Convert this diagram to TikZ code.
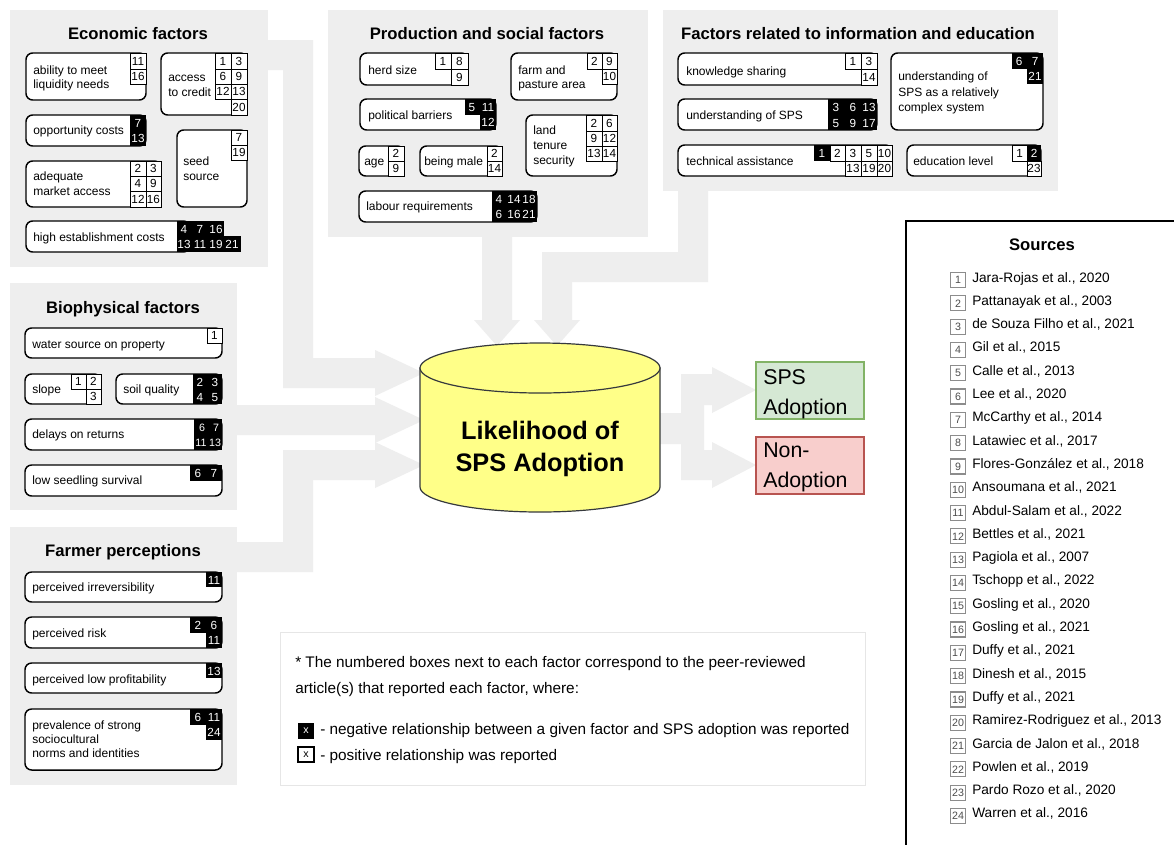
\documentclass[tikz,border=0pt]{standalone}
\usepackage{fontspec}
\setmainfont{Liberation Sans}
\definecolor{panel}{HTML}{EEEEEE}
\definecolor{cylfill}{HTML}{FFFF88}
\definecolor{cyldraw}{HTML}{36393D}
\definecolor{gfill}{HTML}{D5E8D4}
\definecolor{gdraw}{HTML}{82B366}
\definecolor{rfill}{HTML}{F8CECC}
\definecolor{rdraw}{HTML}{B85450}
\definecolor{notedraw}{HTML}{E6E6E6}
\definecolor{srcgray}{HTML}{8C8C8C}
\newcounter{nn}
\tikzset{
 factorbox/.style={draw=black, line width=1.1pt, fill=white, rounded corners=5pt, inner sep=0pt},
 pcell/.style={draw=black, line width=0.75pt, fill=white},
 num/.style={font=\fontsize{8.8pt}{9pt}\selectfont, inner sep=0pt, text height=6.3pt, text depth=0pt, anchor=center},
 lbl/.style={font=\fontsize{9pt}{11pt}\selectfont, inner sep=0pt, anchor=base west},
 ttl/.style={font=\bfseries\fontsize{12.5pt}{14pt}\selectfont, inner sep=0pt, anchor=base},
 band/.style={fill=panel, draw=none},
 notetxt/.style={font=\fontsize{11.5pt}{13pt}\selectfont, inner sep=0pt, anchor=base west},
 outtxt/.style={font=\fontsize{16pt}{18pt}\selectfont, inner sep=0pt, anchor=base west},
 cyltxt/.style={font=\bfseries\fontsize{19pt}{21pt}\selectfont, inner sep=0pt, anchor=base},
}
\newcommand\fb[5]{\node[factorbox, minimum width={(#4-#2)*0.75pt}, minimum height={(#5-#3)*0.75pt}] (#1) at ({(#2+#4)/2},{(#3+#5)/2}) {};}
\newcommand\lb[3]{\stepcounter{nn}\node[lbl] (l\arabic{nn}) at (#1,{#2+4}) {#3};}
\newcommand\pc[5]{\stepcounter{nn}\draw[pcell] (#1,#2) rectangle (#3,#4); \node[num] (c\arabic{nn}) at ({(#1+#3)/2},{(#2+#4)/2}) {#5};}
\newcommand\bk[4]{\fill[black] (#1,#2) rectangle (#3,#4);}
\newcommand\nw[3]{\stepcounter{nn}\node[num,text=white] (w\arabic{nn}) at (#1,#2) {#3};}
\newcommand\nws[3]{\stepcounter{nn}\node[num,text=white,font=\fontsize{8pt}{8pt}\selectfont] (w\arabic{nn}) at (#1,#2) {#3};}
\newcommand\src[2]{\stepcounter{nn}\pgfmathsetmacro\yy{277+(#1-1)*23.3}%
 \draw[srcgray, line width=0.9pt, fill=white] (950.5,{\yy-4.5}) rectangle (965.5,{\yy+10.5});
 \node[font=\fontsize{8pt}{8pt}\selectfont, text=black!70, inner sep=0pt] (sn\arabic{nn}) at (958,{\yy+3}) {#1};
 \node[font=\fontsize{10.25pt}{12pt}\selectfont, inner sep=0pt, anchor=base west] (st\arabic{nn}) at (972,{\yy+5}) {#2};}

\begin{document}
\begin{tikzpicture}[x=0.75pt, y=-0.75pt]
\useasboundingbox (0,0) rectangle (1174,844);
\clip (0,0) rectangle (1174,844);
\fill[white] (0,0) rectangle (1174,844);

% panels
\fill[panel] (10,10) rectangle (268,267);
\fill[panel] (328,10) rectangle (648,237);
\fill[panel] (663,10) rectangle (1058,191);
\fill[panel] (10,283) rectangle (237,510);
\fill[panel] (10,527) rectangle (237,785);

% gray bands / arrows
\fill[band] (268,40) -- (313,40) -- (313,358) -- (375,358) -- (375,350) -- (424,373) -- (375,396) -- (375,388) -- (283,388) -- (283,70) -- (268,70) -- cycle;
\fill[band] (237,405) -- (375,405) -- (375,397) -- (424,420) -- (375,443) -- (375,435) -- (237,435) -- cycle;
\fill[band] (237,542) -- (283,542) -- (283,450) -- (375,450) -- (375,442) -- (424,465) -- (375,488) -- (375,480) -- (313,480) -- (313,572) -- (237,572) -- cycle;
\fill[band] (482,237) -- (512,237) -- (512,320) -- (520,320) -- (497,346) -- (474,320) -- (482,320) -- cycle;
\fill[band] (678,191) -- (708,191) -- (708,282) -- (572,282) -- (572,320) -- (580,320) -- (557,346) -- (534,320) -- (542,320) -- (542,252) -- (678,252) -- cycle;
\fill[band] (650,413) -- (681,413) -- (681,374) -- (712,374) -- (712,367) -- (756,390) -- (712,413) -- (712,405) -- (704,405) -- (704,450) -- (712,450) -- (712,442) -- (756,465) -- (712,488) -- (712,480) -- (681,480) -- (681,444) -- (650,444) -- cycle;

% cylinder
\filldraw[draw=cyldraw, fill=cylfill, line width=0.9pt] (420,368) -- (420,487) arc[start angle=180, end angle=0, x radius=120, y radius=25] -- (660,368) -- cycle;
\filldraw[draw=cyldraw, fill=cylfill, line width=0.9pt] (540,368) ellipse [x radius=120, y radius=25];
\coordinate (cyl) at (540,428);
\node[cyltxt] (cylA) at (540,439) {Likelihood of};
\node[cyltxt] (cylB) at (540,471) {SPS Adoption};

% outcomes
\node[draw=gdraw, fill=gfill, line width=1pt, minimum width={108*0.75pt}, minimum height={57*0.75pt}, inner sep=0pt] (sps) at (810,390.5) {};
\node[outtxt] (spsA) at (763,384.5) {SPS};
\node[outtxt] (spsB) at (763,414.5) {Adoption};
\node[draw=rdraw, fill=rfill, line width=1pt, minimum width={108*0.75pt}, minimum height={57*0.75pt}, inner sep=0pt] (non) at (810,465.5) {};
\node[outtxt] (nonA) at (763,457.5) {Non-};
\node[outtxt] (nonB) at (763,487.5) {Adoption};

% titles
\node[ttl] (tEcon) at (138,39) {Economic factors};
\node[ttl] (tProd) at (487,39) {Production and social factors};
\node[ttl] (tInfo) at (858,39) {Factors related to information and education};
\node[ttl] (tBio) at (123,313) {Biophysical factors};
\node[ttl] (tFarm) at (123,556) {Farmer perceptions};

% Economic
\fb{e1}{26}{53}{146}{100}
\lb{33}{70}{ability to meet}\lb{33}{84}{liquidity needs}
\pc{130}{53}{146}{69}{11}\pc{130}{69}{146}{84}{16}
\fb{e2}{161}{53}{247}{115}
\lb{168}{77}{access}\lb{168}{92}{to credit}
\pc{215}{53}{231}{69}{1}\pc{231}{53}{247}{69}{3}
\pc{215}{69}{231}{84}{6}\pc{231}{69}{247}{84}{9}
\pc{215}{84}{231}{99}{12}\pc{231}{84}{247}{99}{13}
\pc{231}{99}{247}{115}{20}
\fb{e3}{26}{115}{146}{146}
\lb{33}{130}{opportunity costs}
\bk{130}{115}{146}{146}\nw{138}{123}{7}\nw{138}{138}{13}
\fb{e4}{177}{130}{247}{207}
\lb{183}{161}{seed}\lb{183}{176}{source}
\pc{231}{130}{247}{145}{7}\pc{231}{145}{247}{160}{19}
\fb{e5}{26}{161}{161}{207}
\lb{33}{176}{adequate}\lb{33}{191}{market access}
\pc{130}{161}{146}{176}{2}\pc{146}{161}{161}{176}{3}
\pc{130}{176}{146}{191}{4}\pc{146}{176}{161}{191}{9}
\pc{130}{191}{146}{207}{12}\pc{146}{191}{161}{207}{16}
\fb{e6}{26}{221}{190}{252}
\lb{33}{237}{high establishment costs}
\bk{177}{221}{224}{237}\bk{177}{236}{241}{252}
\nw{184}{229}{4}\nw{200}{229}{7}\nw{216}{229}{16}
\nw{184}{244}{13}\nw{200}{244}{11}\nw{216}{244}{19}\nw{232}{244}{21}

% Production
\fb{p1}{360}{53}{468}{85}
\lb{368}{70}{herd size}
\pc{435}{53}{451}{69}{1}\pc{451}{53}{468}{69}{8}\pc{451}{69}{468}{85}{9}
\fb{p2}{511}{53}{617}{100}
\lb{518}{70}{farm and}\lb{518}{84}{pasture area}
\pc{587}{53}{602}{69}{2}\pc{602}{53}{617}{69}{9}\pc{602}{69}{617}{84}{10}
\fb{p3}{360}{99}{496}{130}
\lb{368}{115}{political barriers}
\bk{465}{99}{496}{115}\bk{480}{114}{496}{130}
\nw{472}{107}{5}\nw{488}{107}{11}\nw{488}{122}{12}
\fb{p4}{526}{115}{617}{176}
\lb{533}{130}{land}\lb{533}{145}{tenure}\lb{533}{160}{security}
\pc{586}{115}{602}{131}{2}\pc{602}{115}{617}{131}{6}
\pc{586}{131}{602}{146}{9}\pc{602}{131}{617}{146}{12}
\pc{586}{146}{602}{161}{13}\pc{602}{146}{617}{161}{14}
\fb{p5}{359}{146}{404}{176}
\lb{364}{161}{age}
\pc{388}{146}{404}{161}{2}\pc{388}{161}{404}{176}{9}
\fb{p6}{420}{146}{502}{176}
\lb{424}{161}{being male}
\pc{487}{146}{502}{161}{2}\pc{487}{161}{502}{176}{14}
\fb{p7}{359}{191}{537}{222}
\lb{366}{206}{labour requirements}
\bk{492}{191}{537}{222}
\nw{499}{199}{4}\nw{514}{199}{14}\nw{529}{199}{18}
\nw{499}{214}{6}\nw{514}{214}{16}\nw{529}{214}{21}

% Information
\fb{i1}{678}{53}{877}{85}
\lb{686}{71}{knowledge sharing}
\pc{845}{53}{861}{69}{1}\pc{861}{53}{877}{69}{3}\pc{861}{69}{877}{85}{14}
\fb{i2}{678}{99}{877}{130}
\lb{686}{115}{understanding of SPS}
\bk{828}{99}{877}{130}
\nw{836}{107}{3}\nw{853}{107}{6}\nw{869}{107}{13}
\nw{836}{123}{5}\nw{853}{123}{9}\nw{869}{123}{17}
\fb{i3}{891}{53}{1043}{130}
\lb{898}{76}{understanding of}\lb{898}{92}{SPS as a relatively}\lb{898}{107}{complex system}
\bk{1012}{53}{1043}{69}\bk{1027}{68}{1043}{84}
\nw{1019}{61}{6}\nw{1035}{61}{7}\nw{1035}{76}{21}
\fb{i4}{678}{145}{892}{176}
\lb{686}{161}{technical assistance}
\bk{814}{145}{830}{161}\nw{822}{153}{1}
\pc{830}{145}{845}{161}{2}\pc{845}{145}{861}{161}{3}\pc{861}{145}{877}{161}{5}\pc{877}{145}{892}{161}{10}
\pc{845}{161}{861}{176}{13}\pc{861}{161}{877}{176}{19}\pc{877}{161}{892}{176}{20}
\fb{i5}{907}{145}{1041}{176}
\lb{913}{161}{education level}
\pc{1012}{145}{1027}{161}{1}\bk{1027}{145}{1041}{161}\nw{1034}{153}{2}\pc{1027}{161}{1041}{176}{23}

% Biophysical
\fb{b1}{25}{328}{222}{358}
\lb{32}{344}{water source on property}
\pc{207}{328}{222}{343}{1}
\fb{b2}{25}{374}{101}{404}
\lb{32}{389}{slope}
\pc{71}{374}{86}{389}{1}\pc{86}{374}{101}{389}{2}\pc{86}{389}{101}{404}{3}
\fb{b3}{116}{374}{222}{404}
\lb{123}{389}{soil quality}
\bk{193}{374}{222}{404}
\nw{200}{382}{2}\nw{215}{382}{3}\nw{200}{397}{4}\nw{215}{397}{5}
\fb{b4}{25}{419}{222}{450}
\lb{32}{434}{delays on returns}
\bk{194}{419}{222}{450}
\nws{202}{427}{6}\nws{216}{427}{7}\nws{201}{442}{11}\nws{215}{442}{13}
\fb{b5}{25}{465}{222}{496}
\lb{32}{480}{low seedling survival}
\bk{190}{465}{222}{481}\nw{198}{473}{6}\nw{214}{473}{7}

% Farmer perceptions
\fb{f1}{25}{572}{222}{602}
\lb{32}{587}{perceived irreversibility}
\bk{206}{572}{222}{587}\nw{214}{580}{11}
\fb{f2}{25}{617}{222}{648}
\lb{32}{633}{perceived risk}
\bk{190}{617}{222}{633}\bk{206}{632}{222}{648}
\nw{198}{625}{2}\nw{214}{625}{6}\nw{214}{640}{11}
\fb{f3}{25}{663}{222}{693}
\lb{32}{679}{perceived low profitability}
\bk{206}{663}{222}{678}\nw{214}{671}{13}
\fb{f4}{25}{709}{222}{770}
\lb{32}{725}{prevalence of strong}\lb{32}{739}{sociocultural}\lb{32}{753}{norms and identities}
\bk{190}{709}{222}{725}\bk{206}{724}{222}{740}
\nw{198}{717}{6}\nw{214}{717}{11}\nw{214}{732}{24}

% Note box
\node[draw=notedraw, fill=white, line width=0.75pt, minimum width={585*0.75pt}, minimum height={153*0.75pt}, inner sep=0pt] (note) at (572.5,708.5) {};
\node[notetxt] (note1) at (295,667) {* The numbered boxes next to each factor correspond to the peer-reviewed};
\node[notetxt] (note2) at (295,693) {article(s) that reported each factor, where:};
\node[fill=black, text=white, minimum width={16*0.75pt}, minimum height={16*0.75pt}, inner sep=0pt, font=\fontsize{8pt}{8pt}\selectfont] (lgneg) at (306,731) {x};
\node[draw=black, line width=0.9pt, fill=white, minimum width={16*0.75pt}, minimum height={15*0.75pt}, inner sep=0pt, font=\fontsize{8pt}{8pt}\selectfont] (lgpos) at (306,754.5) {x};
\node[notetxt] (note3) at (320,734) {- negative relationship between a given factor and SPS adoption was reported};
\node[notetxt] (note4) at (320,760) {- positive relationship was reported};

% Sources
\draw[line width=1.2pt] (906,221) rectangle (1190,870);
\node[ttl] (tSrc) at (1042,250) {Sources};
\src{1}{Jara-Rojas et al., 2020}
\src{2}{Pattanayak et al., 2003}
\src{3}{de Souza Filho et al., 2021}
\src{4}{Gil et al., 2015}
\src{5}{Calle et al., 2013}
\src{6}{Lee et al., 2020}
\src{7}{McCarthy et al., 2014}
\src{8}{Latawiec et al., 2017}
\src{9}{Flores-González et al., 2018}
\src{10}{Ansoumana et al., 2021}
\src{11}{Abdul-Salam et al., 2022}
\src{12}{Bettles et al., 2021}
\src{13}{Pagiola et al., 2007}
\src{14}{Tschopp et al., 2022}
\src{15}{Gosling et al., 2020}
\src{16}{Gosling et al., 2021}
\src{17}{Duffy et al., 2021}
\src{18}{Dinesh et al., 2015}
\src{19}{Duffy et al., 2021}
\src{20}{Ramirez-Rodriguez et al., 2013}
\src{21}{Garcia de Jalon et al., 2018}
\src{22}{Powlen et al., 2019}
\src{23}{Pardo Rozo et al., 2020}
\src{24}{Warren et al., 2016}
\end{tikzpicture}
\end{document}
